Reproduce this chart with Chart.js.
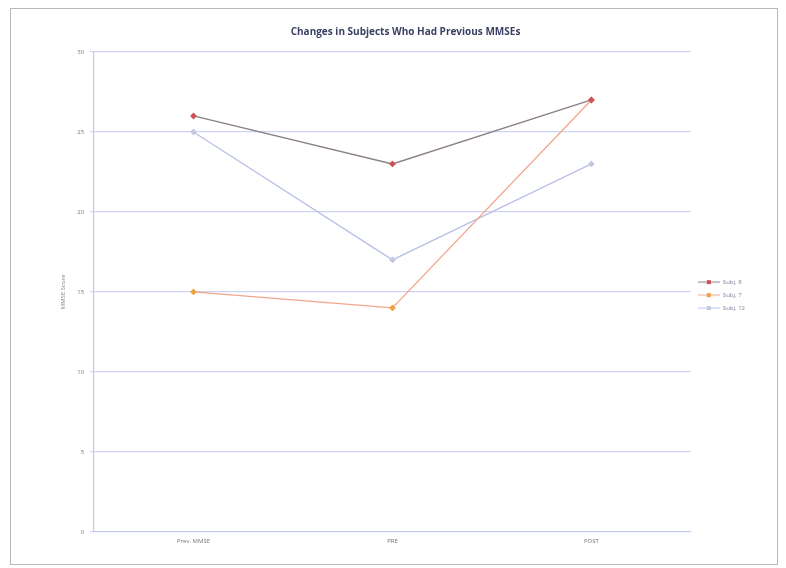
<!DOCTYPE html>
<html>
<head>
<meta charset="utf-8">
<script src="https://cdn.jsdelivr.net/npm/chart.js@4/dist/chart.umd.min.js"></script>
<style>
  html, body { margin: 0; padding: 0; background: #fff; }
  #frame {
    position: absolute; left: 10px; top: 8px;
    width: 766px; height: 555px;
    border: 1px solid #b8b8b8;
    background: #fff;
  }
  #chart { display: block; }
</style>
</head>
<body>
<div id="frame"><canvas id="chart" width="766" height="555"></canvas></div>
<script>
// Test sessions along the x axis
const categories = ["Prev. MMSE", "PRE", "POST"];
// MMSE scores per subject
const subj8 = [26, 23, 27];
const subj7 = [15, 14, 27];
const subj12 = [25, 17, 23];
const yTicks = [0, 5, 10, 15, 20, 25, 30];

const seriesStyle = [
  { label: "Subj. 8", data: subj8, line: "#8c7f86", point: "#d0505a" },
  { label: "Subj. 7", data: subj7, line: "#f2a58c", point: "#f0a040" },
  { label: "Subj. 12", data: subj12, line: "#b9c1e6", point: "#c4c8de" }
];

// Small line-with-marker swatch for the legend
function swatch(line, point) {
  const c = document.createElement("canvas");
  c.width = 22; c.height = 8;
  const g = c.getContext("2d");
  g.strokeStyle = line; g.lineWidth = 1;
  g.beginPath(); g.moveTo(0, 4); g.lineTo(22, 4); g.stroke();
  g.fillStyle = point;
  g.fillRect(9, 2, 4, 4);
  return c;
}

new Chart(document.getElementById("chart"), {
  type: "line",
  data: {
    labels: categories,
    datasets: seriesStyle.map(s => ({
      label: s.label,
      data: s.data,
      borderColor: s.line,
      backgroundColor: s.point,
      pointBackgroundColor: s.point,
      pointBorderColor: s.point,
      pointStyle: "rectRot",
      pointRadius: 2.5,
      borderWidth: 1.3,
      tension: 0,
      fill: false
    }))
  },
  options: {
    responsive: false,
    animation: false,
    layout: { padding: { top: 8, right: 22, bottom: 13, left: 45 } },
    plugins: {
      title: {
        display: true,
        text: "Changes in Subjects Who Had Previous MMSEs",
        color: "#3b3f63",
        font: { family: "Open Sans", size: 10, weight: "bold" },
        padding: { top: 9, bottom: 14 }
      },
      legend: {
        position: "right",
        align: "center",
        // blank heading leaves room so the entries sit a little below centre
        title: { display: true, text: " ", font: { size: 6 }, padding: { top: 0, bottom: 15 } },
        labels: {
          usePointStyle: true,
          pointStyleWidth: 22,
          color: "#7a7f99",
          font: { family: "Open Sans", size: 6 },
          padding: 7,
          generateLabels(chart) {
            return chart.data.datasets.map((d, i) => ({
              text: d.label,
              pointStyle: swatch(seriesStyle[i].line, seriesStyle[i].point),
              datasetIndex: i,
              fontColor: "#7a7f99",
              lineWidth: 0,
              strokeStyle: "transparent",
              fillStyle: "transparent"
            }));
          }
        }
      },
      tooltip: { enabled: false }
    },
    scales: {
      x: {
        offset: true,
        grid: { display: false, drawTicks: false },
        border: { color: "#c3c9ef", width: 1 },
        ticks: { color: "#777", font: { family: "Open Sans", size: 6 }, padding: 6 }
      },
      y: {
        min: 0, max: 30,
        afterBuildTicks(axis) { axis.ticks = yTicks.map(v => ({ value: v })); },
        grid: { color: "#cfd4f5", lineWidth: 1.2, drawTicks: true, tickLength: 4 },
        border: { color: "#c3c9ef", width: 1.2 },
        ticks: { color: "#777", font: { family: "Open Sans", size: 6 }, padding: 6 },
        title: {
          display: true,
          text: "MMSE Score",
          color: "#7a7f99",
          font: { family: "Open Sans", size: 6 },
          padding: { bottom: 4 }
        }
      }
    }
  }
});
</script>
</body>
</html>
